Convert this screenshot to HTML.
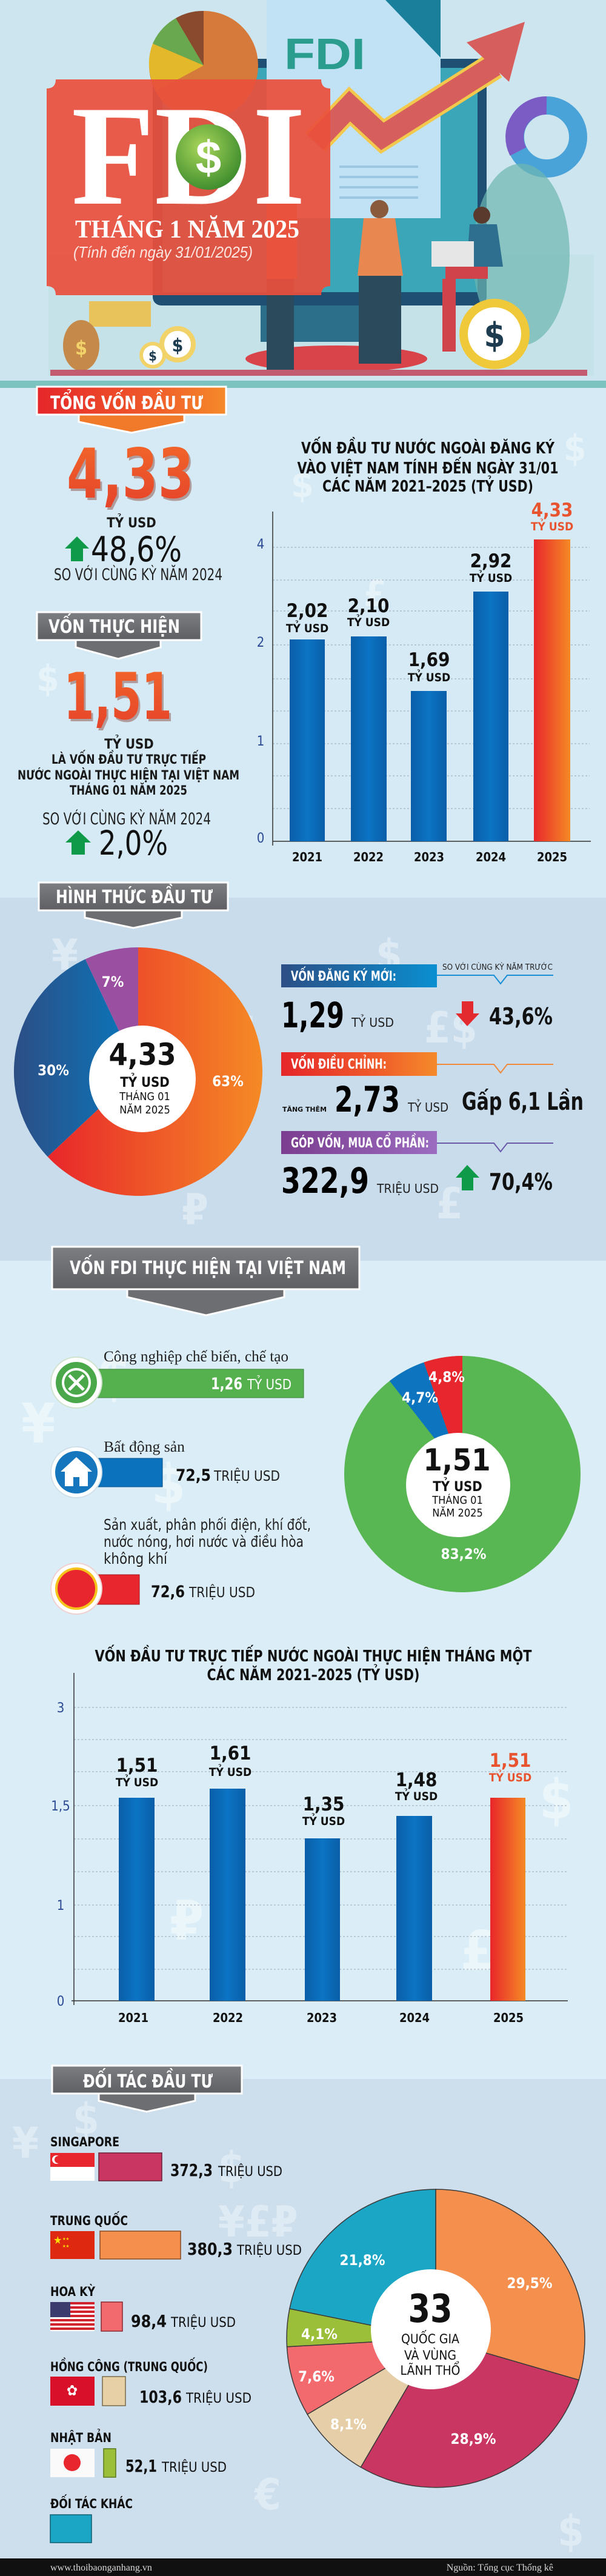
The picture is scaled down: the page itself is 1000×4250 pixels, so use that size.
<!DOCTYPE html>
<html><head><meta charset="utf-8">
<style>
html,body{margin:0;padding:0;width:1000px;height:4250px;overflow:hidden;background:#d8ebf5}
svg{display:block}
text{font-family:"Liberation Sans Narrow","DejaVu Sans Condensed","Liberation Sans",sans-serif}
.b{font-weight:bold}
.sf{font-family:"Liberation Serif","DejaVu Serif",serif}
</style></head><body>
<svg width="1000" height="4250" viewBox="0 0 1000 4250" xmlns="http://www.w3.org/2000/svg">
<defs>
<linearGradient id="gOr" x1="0" y1="0" x2="1" y2="0"><stop offset="0" stop-color="#e8262b"/><stop offset="1" stop-color="#f58a25"/></linearGradient>
<linearGradient id="gRedBan" x1="0" y1="0" x2="1" y2="0"><stop offset="0" stop-color="#e5262a"/><stop offset=".6" stop-color="#ef5a2a"/><stop offset="1" stop-color="#f58a2a"/></linearGradient>
<linearGradient id="gGray" x1="0" y1="0" x2="0" y2="1"><stop offset="0" stop-color="#7d7e82"/><stop offset="1" stop-color="#5e5f63"/></linearGradient>
<linearGradient id="gBlueBar" x1="0" y1="0" x2="1" y2="0"><stop offset="0" stop-color="#0a5ea8"/><stop offset=".5" stop-color="#0b74c4"/><stop offset="1" stop-color="#0a5ea8"/></linearGradient>
<linearGradient id="gBlueBan" x1="0" y1="0" x2="1" y2="0"><stop offset="0" stop-color="#2c4f86"/><stop offset="1" stop-color="#0a8fd0"/></linearGradient>
<linearGradient id="gPurBan" x1="0" y1="0" x2="1" y2="0"><stop offset="0" stop-color="#7b3d8f"/><stop offset="1" stop-color="#9b6cc0"/></linearGradient>
<linearGradient id="gBlueSlice" x1="0" y1="0" x2="1" y2="0"><stop offset="0" stop-color="#2d4e85"/><stop offset="1" stop-color="#0878bd"/></linearGradient>
<linearGradient id="gNum" x1="0" y1="0" x2="0" y2="1"><stop offset="0" stop-color="#f36a2a"/><stop offset="1" stop-color="#e4402a"/></linearGradient>
<radialGradient id="gCoin" cx=".4" cy=".35" r=".7"><stop offset="0" stop-color="#a9d65a"/><stop offset="1" stop-color="#3a8a2c"/></radialGradient>
</defs>

<!-- ============ HEADER ============ -->
<rect x="0" y="0" width="1000" height="630" fill="#cde5ef"/>
<rect x="80" y="420" width="900" height="200" fill="#bfe0e2" opacity=".6"/>
<rect x="252" y="97" width="551" height="407" rx="14" fill="#1f4f73"/>
<rect x="268" y="112" width="520" height="370" fill="#3aa6b8"/>
<rect x="430" y="504" width="190" height="60" fill="#2c6f8a"/>
<ellipse cx="555" cy="592" rx="150" ry="22" fill="#d9434a"/>
<rect x="440" y="0" width="287" height="360" fill="#c1e1f4"/>
<polygon points="636,0 727,0 727,95" fill="#1a7f9a"/>
<text x="469" y="114" font-size="72" class="b" fill="#2a9d8f" textLength="134" lengthAdjust="spacingAndGlyphs" style="font-family:'Liberation Sans',sans-serif">FDI</text>
<g stroke="#9cc7e0" stroke-width="4"><line x1="560" y1="275" x2="690" y2="275"/><line x1="560" y1="292" x2="690" y2="292"/><line x1="560" y1="309" x2="690" y2="309"/><line x1="560" y1="326" x2="690" y2="326"/></g>
<circle cx="336" cy="108" r="90" fill="#d57a3a"/>
<path d="M336,108 L336,18 A90,90 0 0 0 290,30 Z" fill="#8a4a2e"/>
<path d="M336,108 L290,30 A90,90 0 0 0 252,72 Z" fill="#6aa84f"/>
<path d="M336,108 L252,72 A90,90 0 0 0 258,150 Z" fill="#e3b82b"/>
<polyline points="520,235 577,175 631,225 816,108" fill="none" stroke="#f2c94c" stroke-width="46" stroke-linejoin="miter"/>
<polyline points="520,235 577,175 631,225 816,108" fill="none" stroke="#d65f5d" stroke-width="36" stroke-linejoin="miter"/>
<polygon points="770,70 866,36 840,135" fill="#d65f5d"/>
<circle cx="902" cy="226" r="52" fill="none" stroke="#4aa3d8" stroke-width="30"/>
<path d="M902,174 A52,52 0 0 0 855,250" fill="none" stroke="#7a5cc4" stroke-width="30"/>
<ellipse cx="860" cy="420" rx="80" ry="150" fill="#6cb6b0" opacity=".7"/>
<circle cx="626" cy="345" r="15" fill="#8a5a3c"/>
<path d="M600,360 L652,360 L665,455 L590,455 Z" fill="#e8874f"/>
<rect x="592" y="455" width="70" height="145" fill="#2b4a5b"/>
<circle cx="795" cy="355" r="14" fill="#5a3a2c"/>
<path d="M775,370 L820,370 L830,440 L770,440 Z" fill="#2e6f8f"/>
<rect x="712" y="398" width="70" height="42" fill="#e6e6e6"/>
<rect x="735" y="440" width="70" height="20" fill="#d0434a"/>
<rect x="730" y="460" width="22" height="120" fill="#d0434a"/>
<rect x="440" y="330" width="50" height="130" fill="#e0774a"/>
<rect x="440" y="460" width="45" height="150" fill="#2b4a5b"/>
<circle cx="816" cy="551" r="58" fill="#f0c93a"/><circle cx="816" cy="551" r="44" fill="#fff"/>
<text x="816" y="572" font-size="56" text-anchor="middle" fill="#1d3c4f" class="b">$</text>
<rect x="147" y="497" width="102" height="42" fill="#e8c25a"/>
<ellipse cx="134" cy="570" rx="30" ry="42" fill="#c58a4a"/>
<text x="134" y="585" font-size="32" text-anchor="middle" fill="#f2d36a" class="b">$</text>
<circle cx="293" cy="568" r="30" fill="#f2d36a"/><circle cx="293" cy="568" r="22" fill="#fff"/>
<text x="293" y="580" font-size="30" text-anchor="middle" fill="#1d3c4f" class="b">$</text>
<circle cx="252" cy="586" r="22" fill="#f2d36a"/><circle cx="252" cy="586" r="16" fill="#fff"/>
<text x="252" y="595" font-size="22" text-anchor="middle" fill="#1d3c4f" class="b">$</text>
<rect x="83" y="610" width="886" height="10" fill="#c25b6f"/>
<rect x="0" y="628" width="1000" height="12" fill="#7cc3c0"/>
<path d="M92,131 L530,131 Q530,146 545,146 L545,472 Q530,472 530,487 L92,487 Q92,472 77,472 L77,146 Q92,146 92,131 Z" fill="#e9503c" opacity=".93"/>
<text x="118" y="336" font-size="236" class="b sf" fill="#fff" textLength="386" lengthAdjust="spacingAndGlyphs">FDI</text>
<circle cx="344" cy="259" r="54" fill="url(#gCoin)"/>
<text x="344" y="286" font-size="76" text-anchor="middle" fill="#fff" class="b" style="font-family:'Liberation Sans',sans-serif">$</text>
<text x="124" y="392" font-size="42" class="b sf" fill="#fff" textLength="370" lengthAdjust="spacingAndGlyphs">THÁNG 1 NĂM 2025</text>
<text x="121" y="425" font-size="26" fill="#fde7e2" font-style="italic" textLength="296" lengthAdjust="spacingAndGlyphs" style="font-family:'Liberation Sans',sans-serif">(Tính đến ngày 31/01/2025)</text>

<!-- ============ SECTION 1 ============ -->
<rect x="0" y="640" width="1000" height="841" fill="#d6eaf5"/>
<g fill="#eef7fc" opacity=".7" font-size="60" class="b"><text x="480" y="820">$</text><text x="930" y="760">$</text><text x="600" y="1000">£</text><text x="60" y="1140">$</text><text x="900" y="1250">€</text></g>
<polygon points="130,684 130,696 217,714 304,696 304,684" fill="#f07a2a" stroke="#fff" stroke-width="3"/>
<rect x="61" y="638" width="312" height="46" fill="url(#gRedBan)" stroke="#fff" stroke-width="3"/>
<text x="83" y="675" font-size="30" class="b" fill="#fff" textLength="252" lengthAdjust="spacingAndGlyphs">TỔNG VỐN ĐẦU TƯ</text>
<text x="113" y="825" font-size="113" class="b" fill="#7a2a1a" opacity=".4" textLength="210" lengthAdjust="spacingAndGlyphs">4,33</text>
<text x="110" y="821" font-size="113" class="b" fill="url(#gNum)" textLength="210" lengthAdjust="spacingAndGlyphs">4,33</text>
<text x="217" y="870" font-size="22" class="b" fill="#1a1a1a" text-anchor="middle">TỶ USD</text>
<polygon points="127,885 147,905 137,905 137,926 117,926 117,905 107,905" fill="#0e9a48"/>
<text x="150" y="926" font-size="57" fill="#111" textLength="150" lengthAdjust="spacingAndGlyphs">48,6%</text>
<text x="89" y="957" font-size="27" fill="#222" textLength="278" lengthAdjust="spacingAndGlyphs">SO VỚI CÙNG KỲ NĂM 2024</text>
<polygon points="125,1056 125,1068 195,1087 265,1068 265,1056" fill="#6d6e71" stroke="#fff" stroke-width="3"/>
<rect x="61" y="1010" width="271" height="46" fill="url(#gGray)" stroke="#fff" stroke-width="3"/>
<text x="80" y="1044" font-size="30" class="b" fill="#fff" textLength="217" lengthAdjust="spacingAndGlyphs">VỐN THỰC HIỆN</text>
<text x="108" y="1190" font-size="106" class="b" fill="#7a2a1a" opacity=".4" textLength="179" lengthAdjust="spacingAndGlyphs">1,51</text>
<text x="105" y="1186" font-size="106" class="b" fill="url(#gNum)" textLength="179" lengthAdjust="spacingAndGlyphs">1,51</text>
<text x="213" y="1235" font-size="22" class="b" fill="#1a1a1a" text-anchor="middle">TỶ USD</text>
<text x="85" y="1260" font-size="21" class="b" fill="#1a1a1a" textLength="255" lengthAdjust="spacingAndGlyphs">LÀ VỐN ĐẦU TƯ TRỰC TIẾP</text>
<text x="29" y="1286" font-size="21" class="b" fill="#1a1a1a" textLength="366" lengthAdjust="spacingAndGlyphs">NƯỚC NGOÀI THỰC HIỆN TẠI VIỆT NAM</text>
<text x="115" y="1311" font-size="21" class="b" fill="#1a1a1a" textLength="194" lengthAdjust="spacingAndGlyphs">THÁNG 01 NĂM 2025</text>
<text x="70" y="1360" font-size="27" fill="#222" textLength="278" lengthAdjust="spacingAndGlyphs">SO VỚI CÙNG KỲ NĂM 2024</text>
<polygon points="129,1370 150,1390 140,1390 140,1410 118,1410 118,1390 108,1390" fill="#0e9a48"/>
<text x="163" y="1410" font-size="55" fill="#111" textLength="114" lengthAdjust="spacingAndGlyphs">2,0%</text>

<g font-size="26" class="b" fill="#111" text-anchor="middle">
<text x="706" y="748" textLength="418" lengthAdjust="spacingAndGlyphs">VỐN ĐẦU TƯ NƯỚC NGOÀI ĐĂNG KÝ</text>
<text x="706" y="781" textLength="431" lengthAdjust="spacingAndGlyphs">VÀO VIỆT NAM TÍNH ĐẾN NGÀY 31/01</text>
<text x="706" y="811" textLength="348" lengthAdjust="spacingAndGlyphs">CÁC NĂM 2021–2025 (TỶ USD)</text>
</g>
<g stroke="#9aa5b5" stroke-width="1" stroke-dasharray="3,3">
<line x1="450" y1="903" x2="973" y2="903"/><line x1="450" y1="957" x2="973" y2="957"/><line x1="450" y1="1008" x2="973" y2="1008"/><line x1="450" y1="1064" x2="973" y2="1064"/><line x1="450" y1="1120" x2="973" y2="1120"/><line x1="450" y1="1173" x2="973" y2="1173"/><line x1="450" y1="1227" x2="973" y2="1227"/><line x1="450" y1="1280" x2="973" y2="1280"/><line x1="450" y1="1334" x2="973" y2="1334"/>
</g>
<line x1="450" y1="844" x2="450" y2="1395" stroke="#333" stroke-width="1.5"/>
<line x1="450" y1="1388" x2="975" y2="1388" stroke="#333" stroke-width="1.5"/>
<g font-size="22" fill="#2c4a94" text-anchor="middle"><text x="430" y="905">4</text><text x="430" y="1067">2</text><text x="430" y="1230">1</text><text x="430" y="1390">0</text></g>
<rect x="478" y="1055" width="58" height="333" fill="url(#gBlueBar)"/>
<rect x="579" y="1050" width="59" height="338" fill="url(#gBlueBar)"/>
<rect x="678" y="1140" width="59" height="248" fill="url(#gBlueBar)"/>
<rect x="781" y="976" width="58" height="412" fill="url(#gBlueBar)"/>
<rect x="881" y="890" width="60" height="498" fill="url(#gOr)"/>
<g class="b" text-anchor="middle" fill="#111">
<text x="507" y="1018" font-size="31">2,02</text><text x="507" y="1043" font-size="19">TỶ USD</text>
<text x="608" y="1010" font-size="31">2,10</text><text x="608" y="1033" font-size="19">TỶ USD</text>
<text x="708" y="1099" font-size="31">1,69</text><text x="708" y="1124" font-size="19">TỶ USD</text>
<text x="810" y="936" font-size="31">2,92</text><text x="810" y="960" font-size="19">TỶ USD</text>
<text x="911" y="852" font-size="31" fill="#e8542f">4,33</text><text x="911" y="875" font-size="19" fill="#e8542f">TỶ USD</text>
<g font-size="20"><text x="507" y="1421">2021</text><text x="608" y="1421">2022</text><text x="708" y="1421">2023</text><text x="810" y="1421">2024</text><text x="911" y="1421">2025</text></g>
</g>

<!-- ============ SECTION 2 ============ -->
<rect x="0" y="1481" width="1000" height="599" fill="#c9dcec"/>
<g fill="#e6f0f8" opacity=".7" font-size="70" class="b"><text x="85" y="1600">¥</text><text x="380" y="1720">$</text><text x="620" y="1600">$</text><text x="700" y="1720">£$</text><text x="300" y="2020">₽</text><text x="720" y="2010">£</text></g>
<polygon points="140,1502 140,1514 220,1531 300,1514 300,1502" fill="#6d6e71" stroke="#fff" stroke-width="3"/>
<rect x="64" y="1456" width="312" height="46" fill="url(#gGray)" stroke="#fff" stroke-width="3"/>
<text x="92" y="1490" font-size="30" class="b" fill="#fff" textLength="259" lengthAdjust="spacingAndGlyphs">HÌNH THỨC ĐẦU TƯ</text>
<path d="M228,1768 L228,1563 A205,205 0 1 1 78.6,1908.4 Z" fill="url(#gOr)"/>
<path d="M228,1768 L78.6,1908.4 A205,205 0 0 1 140.7,1582.5 Z" fill="url(#gBlueSlice)"/>
<path d="M228,1768 L140.7,1582.5 A205,205 0 0 1 228,1563 Z" fill="#9b4fa0"/>
<circle cx="235" cy="1780" r="88" fill="#fff"/>
<g class="b" fill="#fff" font-size="24" text-anchor="middle"><text x="186" y="1628">7%</text><text x="88" y="1774">30%</text><text x="376" y="1792">63%</text></g>
<g text-anchor="middle" fill="#111">
<text x="235" y="1757" font-size="50" class="b">4,33</text>
<text x="239" y="1793" font-size="22" class="b">TỶ USD</text>
<text x="239" y="1815" font-size="18">THÁNG 01</text>
<text x="239" y="1837" font-size="18">NĂM 2025</text>
</g>
<rect x="464" y="1591" width="257" height="38" fill="url(#gBlueBan)"/>
<text x="480" y="1618" font-size="22" class="b" fill="#fff" textLength="174" lengthAdjust="spacingAndGlyphs">VỐN ĐĂNG KÝ MỚI:</text>
<text x="730" y="1600" font-size="13" fill="#222" textLength="182" lengthAdjust="spacingAndGlyphs">SO VỚI CÙNG KỲ NĂM TRƯỚC</text>
<polyline points="721,1609 815,1609 826,1623 837,1609 913,1609" fill="none" stroke="#1a8fd3" stroke-width="2"/>
<text x="464" y="1695" font-size="58" class="b" fill="#000" textLength="104" lengthAdjust="spacingAndGlyphs">1,29</text>
<text x="580" y="1694" font-size="20" fill="#222" textLength="70" lengthAdjust="spacingAndGlyphs">TỶ USD</text>
<polygon points="762,1652 781,1652 781,1672 791,1672 771,1693 752,1672 762,1672" fill="#e32a2f"/>
<text x="807" y="1690" font-size="38" class="b" fill="#111" textLength="105" lengthAdjust="spacingAndGlyphs">43,6%</text>
<rect x="464" y="1736" width="257" height="39" fill="url(#gRedBan)"/>
<text x="480" y="1763" font-size="22" class="b" fill="#fff" textLength="158" lengthAdjust="spacingAndGlyphs">VỐN ĐIỀU CHỈNH:</text>
<polyline points="721,1756 815,1756 826,1770 837,1756 913,1756" fill="none" stroke="#f08a3a" stroke-width="2"/>
<text x="466" y="1834" font-size="11" class="b" fill="#111" textLength="73" lengthAdjust="spacingAndGlyphs">TĂNG THÊM</text>
<text x="552" y="1834" font-size="58" class="b" fill="#000" textLength="108" lengthAdjust="spacingAndGlyphs">2,73</text>
<text x="673" y="1834" font-size="20" fill="#222" textLength="67" lengthAdjust="spacingAndGlyphs">TỶ USD</text>
<text x="762" y="1831" font-size="40" class="b" fill="#111" textLength="201" lengthAdjust="spacingAndGlyphs">Gấp 6,1 Lần</text>
<rect x="464" y="1866" width="257" height="38" fill="url(#gPurBan)"/>
<text x="480" y="1893" font-size="22" class="b" fill="#fff" textLength="228" lengthAdjust="spacingAndGlyphs">GÓP VỐN, MUA CỔ PHẦN:</text>
<polyline points="721,1886 815,1886 826,1900 837,1886 913,1886" fill="none" stroke="#6a5aa8" stroke-width="2"/>
<text x="464" y="1968" font-size="58" class="b" fill="#000" textLength="145" lengthAdjust="spacingAndGlyphs">322,9</text>
<text x="622" y="1968" font-size="20" fill="#222" textLength="102" lengthAdjust="spacingAndGlyphs">TRIỆU USD</text>
<polygon points="771,1922 791,1943 781,1943 781,1964 762,1964 762,1943 752,1943" fill="#0e9a48"/>
<text x="807" y="1963" font-size="38" class="b" fill="#111" textLength="105" lengthAdjust="spacingAndGlyphs">70,4%</text>

<!-- ============ SECTION 3 ============ -->
<rect x="0" y="2080" width="1000" height="1350" fill="#dbeef8"/>
<g fill="#f0f8fc" opacity=".8" font-size="90" class="b"><text x="35" y="2380">¥</text><text x="160" y="2300">$</text><text x="250" y="2480">$</text><text x="890" y="3000">$</text><text x="280" y="3200">₽</text><text x="760" y="3250">£</text></g>
<polygon points="210,2127 210,2140 340,2170 469,2140 469,2127" fill="#6d6e71" stroke="#fff" stroke-width="3"/>
<rect x="86" y="2057" width="507" height="70" fill="url(#gGray)" stroke="#fff" stroke-width="3"/>
<text x="115" y="2102" font-size="30" class="b" fill="#fff" textLength="456" lengthAdjust="spacingAndGlyphs">VỐN FDI THỰC HIỆN TẠI VIỆT NAM</text>
<text x="171" y="2246" font-size="25" class="sf" fill="#222" textLength="305" lengthAdjust="spacingAndGlyphs">Công nghiệp chế biến, chế tạo</text>
<rect x="159" y="2259" width="342" height="47" fill="#55b04e" stroke="#3d7f3a" stroke-width="1"/>
<circle cx="126" cy="2281" r="42" fill="#fff" stroke="#cfe3cf" stroke-width="2"/>
<circle cx="126" cy="2281" r="34" fill="#4aa84a"/>
<circle cx="126" cy="2281" r="24" fill="#fff"/><circle cx="126" cy="2281" r="20" fill="#4aa84a"/>
<path d="M114,2269 L138,2293 M138,2269 L114,2293" stroke="#fff" stroke-width="5"/>
<text x="348" y="2292" font-size="27" class="b" fill="#fff" textLength="52" lengthAdjust="spacingAndGlyphs">1,26</text>
<text x="408" y="2292" font-size="23" fill="#fff" textLength="73" lengthAdjust="spacingAndGlyphs">TỶ USD</text>
<text x="171" y="2395" font-size="25" class="sf" fill="#222" textLength="134" lengthAdjust="spacingAndGlyphs">Bất động sản</text>
<rect x="159" y="2406" width="109" height="47" fill="#0b72bd" stroke="#0a4f86" stroke-width="1"/>
<circle cx="126" cy="2429" r="42" fill="#fff" stroke="#cfe0ea" stroke-width="2"/>
<circle cx="126" cy="2429" r="35" fill="#1576bd"/>
<polygon points="126,2404 152,2428 145,2428 145,2452 107,2452 107,2428 100,2428" fill="#fff"/>
<rect x="121" y="2437" width="10" height="15" fill="#1576bd"/>
<text x="290" y="2443" font-size="27" class="b" fill="#111" textLength="58" lengthAdjust="spacingAndGlyphs">72,5</text>
<text x="353" y="2443" font-size="23" fill="#222" textLength="109" lengthAdjust="spacingAndGlyphs">TRIỆU USD</text>
<g class="sf" font-size="25" fill="#222">
<text x="171" y="2524" textLength="342" lengthAdjust="spacingAndGlyphs">Sản xuất, phân phối điện, khí đốt,</text>
<text x="171" y="2552" textLength="330" lengthAdjust="spacingAndGlyphs">nước nóng, hơi nước và điều hòa</text>
<text x="171" y="2580" textLength="105" lengthAdjust="spacingAndGlyphs">không khí</text>
</g>
<rect x="159" y="2598" width="71" height="49" fill="#e8262d" stroke="#a01a1e" stroke-width="1"/>
<circle cx="126" cy="2621" r="42" fill="#fff" stroke="#f0d0d0" stroke-width="2"/>
<circle cx="126" cy="2621" r="35" fill="#f5c31c"/>
<circle cx="126" cy="2621" r="31" fill="#e8262d"/>
<text x="249" y="2635" font-size="27" class="b" fill="#111" textLength="56" lengthAdjust="spacingAndGlyphs">72,6</text>
<text x="312" y="2635" font-size="23" fill="#222" textLength="109" lengthAdjust="spacingAndGlyphs">TRIỆU USD</text>
<circle cx="763" cy="2432" r="195" fill="#58b653"/>
<path d="M763,2432 L642.9,2278.3 A195,195 0 0 1 699.5,2247.6 Z" fill="#0d74c0"/>
<path d="M763,2432 L699.5,2247.6 A195,195 0 0 1 763,2237 Z" fill="#e8262d"/>
<circle cx="756" cy="2450" r="86" fill="#fff"/>
<g class="b" fill="#fff" font-size="24" text-anchor="middle"><text x="737" y="2280">4,8%</text><text x="693" y="2314">4,7%</text><text x="765" y="2572">83,2%</text></g>
<g text-anchor="middle" fill="#111">
<text x="754" y="2426" font-size="50" class="b">1,51</text>
<text x="755" y="2460" font-size="22" class="b">TỶ USD</text>
<text x="755" y="2481" font-size="18">THÁNG 01</text>
<text x="755" y="2502" font-size="18">NĂM 2025</text>
</g>
<g font-size="26" class="b" fill="#111" text-anchor="middle">
<text x="517" y="2741" textLength="721" lengthAdjust="spacingAndGlyphs">VỐN ĐẦU TƯ TRỰC TIẾP NƯỚC NGOÀI THỰC HIỆN THÁNG MỘT</text>
<text x="517" y="2772" textLength="351" lengthAdjust="spacingAndGlyphs">CÁC NĂM 2021–2025 (TỶ USD)</text>
</g>
<g stroke="#9aa5b5" stroke-width="1" stroke-dasharray="3,3">
<line x1="122" y1="2817" x2="937" y2="2817"/><line x1="122" y1="2870" x2="937" y2="2870"/><line x1="122" y1="2923" x2="937" y2="2923"/><line x1="122" y1="2979" x2="937" y2="2979"/><line x1="122" y1="3034" x2="937" y2="3034"/><line x1="122" y1="3088" x2="937" y2="3088"/><line x1="122" y1="3143" x2="937" y2="3143"/><line x1="122" y1="3195" x2="937" y2="3195"/><line x1="122" y1="3249" x2="937" y2="3249"/>
</g>
<line x1="122" y1="2760" x2="122" y2="3308" stroke="#333" stroke-width="1.5"/>
<line x1="118" y1="3301" x2="937" y2="3301" stroke="#333" stroke-width="1.5"/>
<g font-size="22" fill="#2c4a94" text-anchor="middle"><text x="100" y="2825">3</text><text x="100" y="2987">1,5</text><text x="100" y="3151">1</text><text x="100" y="3309">0</text></g>
<rect x="196" y="2966" width="59" height="335" fill="url(#gBlueBar)"/>
<rect x="346" y="2951" width="59" height="350" fill="url(#gBlueBar)"/>
<rect x="503" y="3033" width="58" height="268" fill="url(#gBlueBar)"/>
<rect x="654" y="2996" width="59" height="305" fill="url(#gBlueBar)"/>
<rect x="809" y="2966" width="58" height="335" fill="url(#gOr)"/>
<g class="b" text-anchor="middle" fill="#111">
<text x="226" y="2923" font-size="31">1,51</text><text x="226" y="2947" font-size="19">TỶ USD</text>
<text x="380" y="2903" font-size="31">1,61</text><text x="380" y="2930" font-size="19">TỶ USD</text>
<text x="534" y="2987" font-size="31">1,35</text><text x="534" y="3011" font-size="19">TỶ USD</text>
<text x="687" y="2947" font-size="31">1,48</text><text x="687" y="2970" font-size="19">TỶ USD</text>
<text x="842" y="2915" font-size="31" fill="#e8542f">1,51</text><text x="842" y="2939" font-size="19" fill="#e8542f">TỶ USD</text>
<g font-size="20"><text x="220" y="3336">2021</text><text x="376" y="3336">2022</text><text x="531" y="3336">2023</text><text x="684" y="3336">2024</text><text x="839" y="3336">2025</text></g>
</g>

<!-- ============ SECTION 4 ============ -->
<rect x="0" y="3430" width="1000" height="791" fill="#cddeed"/>
<g fill="#e8f1f8" opacity=".7" font-size="70" class="b"><text x="20" y="3560">¥</text><text x="120" y="3520">$</text><text x="360" y="3600">$</text><text x="360" y="3690">¥£₽</text><text x="920" y="4200">$</text><text x="420" y="4140">€</text></g>
<polygon points="163,3454 163,3466 242,3484 322,3466 322,3454" fill="#6d6e71" stroke="#fff" stroke-width="3"/>
<rect x="86" y="3408" width="313" height="46" fill="url(#gGray)" stroke="#fff" stroke-width="3"/>
<text x="137" y="3444" font-size="30" class="b" fill="#fff" textLength="214" lengthAdjust="spacingAndGlyphs">ĐỐI TÁC ĐẦU TƯ</text>
<g class="b" font-size="21" fill="#111">
<text x="83" y="3541" textLength="114" lengthAdjust="spacingAndGlyphs">SINGAPORE</text>
<text x="83" y="3671" textLength="128" lengthAdjust="spacingAndGlyphs">TRUNG QUỐC</text>
<text x="83" y="3788" textLength="74" lengthAdjust="spacingAndGlyphs">HOA KỲ</text>
<text x="83" y="3912" textLength="260" lengthAdjust="spacingAndGlyphs">HỒNG CÔNG (TRUNG QUỐC)</text>
<text x="83" y="4029" textLength="101" lengthAdjust="spacingAndGlyphs">NHẬT BẢN</text>
<text x="83" y="4138" textLength="136" lengthAdjust="spacingAndGlyphs">ĐỐI TÁC KHÁC</text>
</g>
<rect x="83" y="3552" width="73" height="23" fill="#e8262d"/><rect x="83" y="3575" width="73" height="23" fill="#fff"/>
<circle cx="93" cy="3563" r="7" fill="#fff"/><circle cx="96" cy="3563" r="6" fill="#e8262d"/>
<rect x="83" y="3681" width="73" height="46" fill="#de2910"/>
<text x="88" y="3702" font-size="18" fill="#ffde00">★</text><text x="103" y="3696" font-size="7" fill="#ffde00">★★</text><text x="103" y="3708" font-size="7" fill="#ffde00">★★</text>
<rect x="83" y="3798" width="73" height="48" fill="#fff"/>
<g fill="#d0232e"><rect x="83" y="3798" width="73" height="4"/><rect x="83" y="3805" width="73" height="4"/><rect x="83" y="3812" width="73" height="4"/><rect x="83" y="3819" width="73" height="4"/><rect x="83" y="3826" width="73" height="4"/><rect x="83" y="3833" width="73" height="4"/><rect x="83" y="3840" width="73" height="4"/></g>
<rect x="83" y="3798" width="33" height="25" fill="#3c3b6e"/>
<rect x="83" y="3921" width="73" height="48" fill="#d8102a"/>
<text x="119" y="3952" font-size="24" fill="#fff" text-anchor="middle">✿</text>
<rect x="83" y="4040" width="73" height="47" fill="#fafafa"/>
<circle cx="119" cy="4063" r="14" fill="#e8262d"/>
<rect x="163" y="3552" width="104" height="46" fill="#c93662" stroke="#6a2038" stroke-width="1.5"/>
<rect x="165" y="3681" width="133" height="46" fill="#f58f4e" stroke="#8a4a22" stroke-width="1.5"/>
<rect x="167" y="3798" width="35" height="48" fill="#f26a6e" stroke="#8a2a30" stroke-width="1.5"/>
<rect x="169" y="3921" width="38" height="48" fill="#e8d0a6" stroke="#7a6a4a" stroke-width="1.5"/>
<rect x="171" y="4040" width="20" height="47" fill="#9cbf3a" stroke="#5a7a1a" stroke-width="1.5"/>
<rect x="83" y="4149" width="68" height="46" fill="#1ca6c6" stroke="#0e5e72" stroke-width="1.5"/>
<g fill="#111">
<text x="281" y="3590" font-size="28" class="b" textLength="70" lengthAdjust="spacingAndGlyphs">372,3</text><text x="360" y="3590" font-size="22" textLength="106" lengthAdjust="spacingAndGlyphs">TRIỆU USD</text>
<text x="309" y="3720" font-size="28" class="b" textLength="75" lengthAdjust="spacingAndGlyphs">380,3</text><text x="391" y="3720" font-size="22" textLength="107" lengthAdjust="spacingAndGlyphs">TRIỆU USD</text>
<text x="216" y="3839" font-size="28" class="b" textLength="59" lengthAdjust="spacingAndGlyphs">98,4</text><text x="282" y="3839" font-size="22" textLength="107" lengthAdjust="spacingAndGlyphs">TRIỆU USD</text>
<text x="230" y="3964" font-size="28" class="b" textLength="70" lengthAdjust="spacingAndGlyphs">103,6</text><text x="307" y="3964" font-size="22" textLength="108" lengthAdjust="spacingAndGlyphs">TRIỆU USD</text>
<text x="207" y="4078" font-size="28" class="b" textLength="52" lengthAdjust="spacingAndGlyphs">52,1</text><text x="267" y="4078" font-size="22" textLength="107" lengthAdjust="spacingAndGlyphs">TRIỆU USD</text>
</g>
<g stroke="#3a3a3a" stroke-width="1.5">
<path d="M719,3858 L719,3612 A246,246 0 0 1 955.2,3926.6 Z" fill="#f58f4e"/>
<path d="M719,3858 L955.2,3926.6 A246,246 0 0 1 595.3,4070.5 Z" fill="#c93662"/>
<path d="M719,3858 L595.3,4070.5 A246,246 0 0 1 507.2,3983.2 Z" fill="#e6cfa8"/>
<path d="M719,3858 L507.2,3983.2 A246,246 0 0 1 473.5,3871.8 Z" fill="#f26a6e"/>
<path d="M719,3858 L473.5,3871.8 A246,246 0 0 1 477.9,3809 Z" fill="#9cbf3a"/>
<path d="M719,3858 L477.9,3809 A246,246 0 0 1 719,3612 Z" fill="#1ca6c6"/>
</g>
<circle cx="711" cy="3843" r="99" fill="#fff"/>
<g class="b" fill="#fff" font-size="24" text-anchor="middle">
<text x="598" y="3737">21,8%</text><text x="874" y="3775">29,5%</text><text x="527" y="3859">4,1%</text><text x="522" y="3929">7,6%</text><text x="575" y="4008">8,1%</text><text x="781" y="4032">28,9%</text>
</g>
<g text-anchor="middle" fill="#111">
<text x="710" y="3831" font-size="64" class="b" textLength="73" lengthAdjust="spacingAndGlyphs">33</text>
<text x="710" y="3866" font-size="21">QUỐC GIA</text>
<text x="710" y="3893" font-size="21">VÀ VÙNG</text>
<text x="710" y="3918" font-size="21">LÃNH THỔ</text>
</g>
<rect x="0" y="4221" width="1000" height="29" fill="#101010"/>
<text x="83" y="4241" font-size="16" fill="#d8d8d8" class="sf">www.thoibaonganhang.vn</text>
<text x="913" y="4241" font-size="16" fill="#d8d8d8" class="sf" text-anchor="end">Nguồn: Tổng cục Thống kê</text>
</svg>
</body></html>
